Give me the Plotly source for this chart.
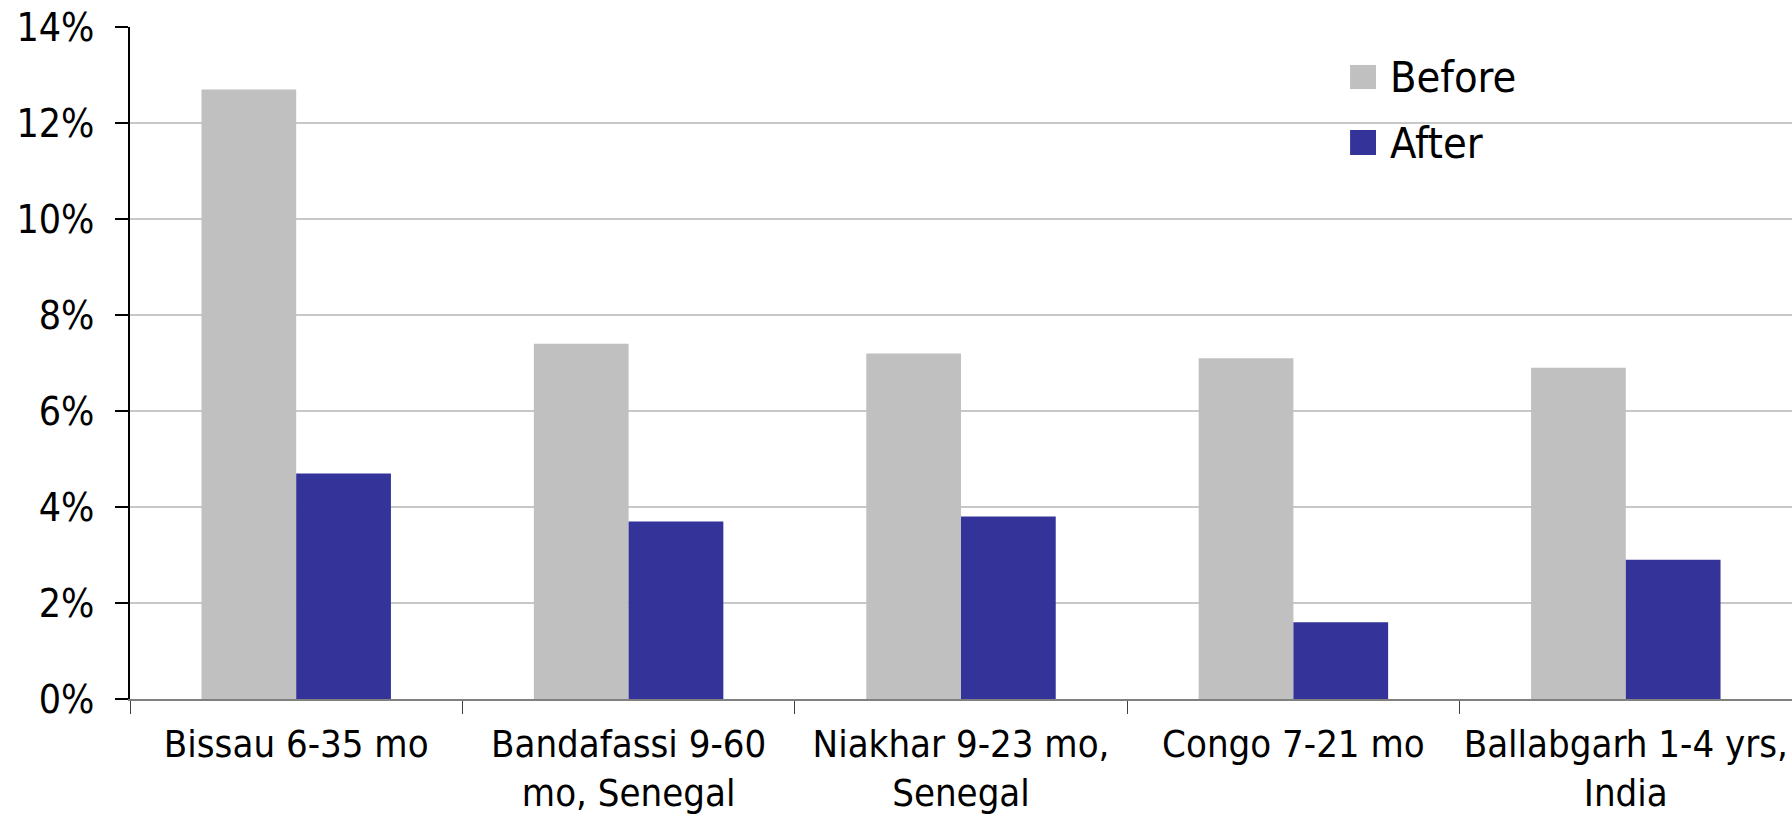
import plotly.graph_objects as go

categories = [
    "Bissau 6-35 mo",
    "Bandafassi 9-60<br>mo, Senegal",
    "Niakhar 9-23 mo,<br>Senegal",
    "Congo 7-21 mo",
    "Ballabgarh 1-4 yrs,<br>India",
]
before = [12.7, 7.4, 7.2, 7.1, 6.9]
after = [4.7, 3.7, 3.8, 1.6, 2.9]
y_ticks = [0, 2, 4, 6, 8, 10, 12, 14]
y_tick_labels = [f"{v}%" for v in y_ticks]

FONT = "DejaVu Sans Condensed, Liberation Sans, sans-serif"
BEFORE_COLOR = "#c0c0c0"
AFTER_COLOR = "#333399"

fig = go.Figure()
fig.add_trace(go.Bar(name="Before", x=categories, y=before,
                     marker=dict(color=BEFORE_COLOR, line=dict(width=0))))
fig.add_trace(go.Bar(name="After", x=categories, y=after,
                     marker=dict(color=AFTER_COLOR, line=dict(width=0))))

fig.update_layout(
    width=1792, height=817,
    margin=dict(l=130, r=0, t=27, b=118, autoexpand=False),
    paper_bgcolor="white", plot_bgcolor="white",
    barmode="group", bargap=0.43, bargroupgap=0,
    font=dict(family=FONT, size=39, color="black"),
    showlegend=False,
)
fig.update_xaxes(
    type="category", range=[-0.5, 4.5], automargin=False,
    tickangle=0,
    showline=True, linecolor="#808080", linewidth=2,
    ticks="outside", tickson="boundaries", ticklen=13, tickcolor="#404040",
    tickwidth=1, showgrid=False, tickfont=dict(size=38),
    ticklabelstandoff=10,
)
fig.update_yaxes(
    range=[0, 14], tickvals=y_ticks, ticktext=y_tick_labels, automargin=False,
    showline=True, linecolor="black", linewidth=1.5,
    ticks="outside", ticklen=13, tickcolor="black", tickwidth=1.5,
    showgrid=True, gridcolor="#c8c8c8", gridwidth=2,
    zeroline=False, ticklabelstandoff=13, tickfont=dict(size=39),
)

# Legend: square swatches with labels, placed in the upper right of the plot area
legend_items = [("Before", BEFORE_COLOR, 0.9435, 0.9077),
                ("After", AFTER_COLOR, 0.8467, 0.8095)]
for name, color, top, bottom in legend_items:
    fig.add_shape(type="rect", xref="paper", yref="paper",
                  x0=0.7341, x1=0.7497, y0=bottom, y1=top,
                  fillcolor=color, line=dict(width=0), layer="above")
    fig.add_annotation(text=name, xref="paper", yref="paper",
                       x=0.7569, y=(top + bottom) / 2, xanchor="left", yanchor="middle",
                       showarrow=False, font=dict(size=43, color="black"))

fig.write_html("out.html")
